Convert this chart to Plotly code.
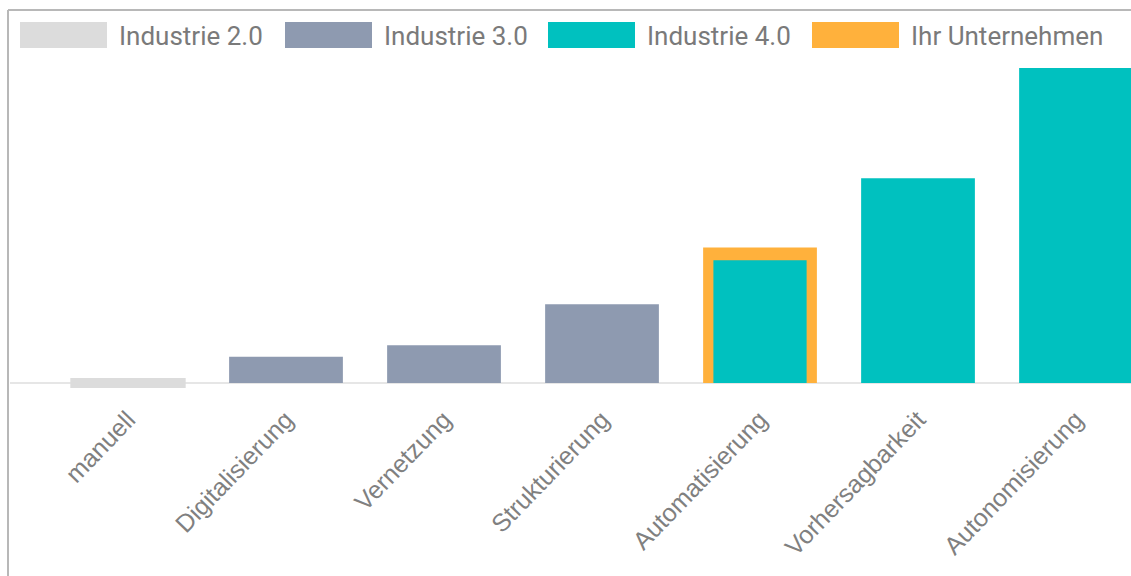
import plotly.graph_objects as go

categories = ["manuell", "Digitalisierung", "Vernetzung", "Strukturierung",
              "Automatisierung", "Vorhersagbarkeit", "Autonomisierung"]
values = [3.2, 8.3, 12.0, 25.0, 39.0, 65.0, 100.0]
bases = [-1.6, 0, 0, 0, 0, 0, 0]
groups = ["Industrie 2.0", "Industrie 3.0", "Industrie 3.0", "Industrie 3.0",
          "Industrie 4.0", "Industrie 4.0", "Industrie 4.0"]
company_category = "Automatisierung"
company_value = 43.0

legend_labels = ["Industrie 2.0", "Industrie 3.0", "Industrie 4.0", "Ihr Unternehmen"]
legend_colors = ["#dcdcdc", "#8e9ab0", "#00c1bf", "#ffb13c"]
color_map = dict(zip(legend_labels, legend_colors))

W, H = 1131, 576
ML, MR, MT, MB = 49, 0, 68, 177
PW, PH = W - ML - MR, H - MT - MB


def px(x):
    return (x - ML) / PW


def py(y):
    return (H - MB - y) / PH


fig = go.Figure()

widths = [0.73 if c == "manuell" else (0.59 if c == company_category else 0.72)
          for c in categories]
fig.add_trace(go.Bar(
    x=categories, y=values, base=bases, width=widths,
    marker=dict(color=[color_map[g] for g in groups], line=dict(width=0)),
    showlegend=False))

# company highlight (orange frame behind the bar)
fig.add_trace(go.Bar(
    x=[company_category], y=[company_value], width=0.72,
    marker=dict(color=color_map["Ihr Unternehmen"], line=dict(width=0)),
    showlegend=False, hoverinfo="skip"))

# redraw the company bar on top of the frame
idx = categories.index(company_category)
fig.add_trace(go.Bar(
    x=[company_category], y=[values[idx]], width=0.59,
    marker=dict(color=color_map[groups[idx]], line=dict(width=0)),
    showlegend=False, hoverinfo="skip"))

shapes = []
# baseline
shapes.append(dict(type="line", xref="paper", yref="y", x0=px(10), x1=px(W), y0=0, y1=0,
                   line=dict(color="#e6e6e6", width=2), layer="below"))
# frame
shapes.append(dict(type="line", xref="paper", yref="paper", x0=px(8), x1=px(W),
                   y0=py(10), y1=py(10), line=dict(color="#b8b8b8", width=2)))
shapes.append(dict(type="line", xref="paper", yref="paper", x0=px(8), x1=px(8),
                   y0=py(10), y1=py(H + 5), line=dict(color="#b8b8b8", width=2)))

annotations = []
sw_x = [20, 285, 548, 812]
for lab, col, x0 in zip(legend_labels, legend_colors, sw_x):
    shapes.append(dict(type="rect", xref="paper", yref="paper",
                       x0=px(x0), x1=px(x0 + 87), y0=py(48), y1=py(22),
                       fillcolor=col, line=dict(width=0)))
    annotations.append(dict(xref="paper", yref="paper", x=px(x0 + 97), y=py(36),
                            text=lab, showarrow=False, xanchor="left", yanchor="middle",
                            font=dict(family="Roboto", size=26, color="#7a7a7a")))

fig.update_layout(
    width=W, height=H,
    margin=dict(l=ML, r=MR, t=MT, b=MB),
    barmode="overlay",
    plot_bgcolor="white", paper_bgcolor="white",
    shapes=shapes, annotations=annotations,
    xaxis=dict(range=[-0.5, 6.348], tickangle=-46, showgrid=False, zeroline=False,
               showline=False, ticks="", categoryorder="array", categoryarray=categories,
               tickfont=dict(family="Liberation Sans", size=25, color="#808080")),
    yaxis=dict(range=[-5.08, 100], visible=False, showgrid=False, zeroline=False),
)

fig.write_html("out.html")
